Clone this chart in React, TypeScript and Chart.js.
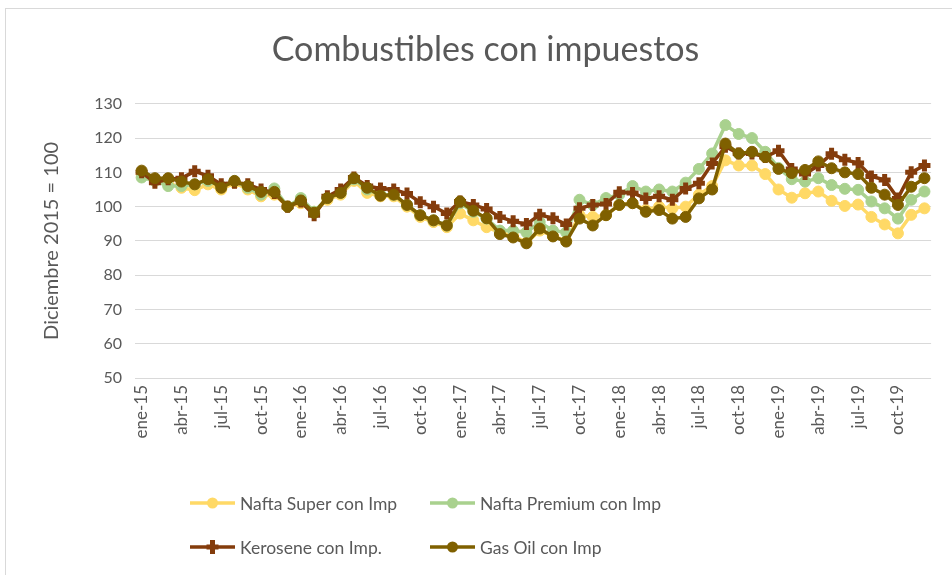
import React, { useEffect, useRef } from 'react';
import { Chart, registerables } from 'chart.js';

Chart.register(...registerables);

const months = [
  'ene-15', 'feb-15', 'mar-15', 'abr-15', 'may-15', 'jun-15', 'jul-15', 'ago-15', 'sep-15', 'oct-15', 'nov-15', 'dic-15',
  'ene-16', 'feb-16', 'mar-16', 'abr-16', 'may-16', 'jun-16', 'jul-16', 'ago-16', 'sep-16', 'oct-16', 'nov-16', 'dic-16',
  'ene-17', 'feb-17', 'mar-17', 'abr-17', 'may-17', 'jun-17', 'jul-17', 'ago-17', 'sep-17', 'oct-17', 'nov-17', 'dic-17',
  'ene-18', 'feb-18', 'mar-18', 'abr-18', 'may-18', 'jun-18', 'jul-18', 'ago-18', 'sep-18', 'oct-18', 'nov-18', 'dic-18',
  'ene-19', 'feb-19', 'mar-19', 'abr-19', 'may-19', 'jun-19', 'jul-19', 'ago-19', 'sep-19', 'oct-19', 'nov-19', 'dic-19',
];

const naftaSuper = [
  109.5, 107.5, 107, 105.5, 104.8, 106.5, 105, 107, 105, 103, 103.5, 100,
  101, 98.5, 102, 103.5, 107.5, 104, 103, 103, 100, 97, 95.5, 94,
  98, 96, 94, 92.5, 91.5, 89.5, 93, 91.5, 90, 97.5, 97, 97.5,
  100.5, 101, 99, 100, 99.5, 100, 103.5, 106, 113.5, 112, 112, 109.5,
  105, 102.6, 103.9, 104.4, 101.7, 100.2, 100.6, 97, 94.8, 92.2, 97.6, 99.5,
];

const naftaPremium = [
  108.5, 107.5, 106, 106, 106.5, 107.5, 106, 107.5, 105.5, 103.5, 105.3, 100,
  102.5, 98.5, 102.5, 104, 108, 105, 103.5, 103.5, 100.5, 97.5, 96, 94.5,
  101, 98.5, 96.5, 93, 93, 92.5, 95.5, 93, 92.5, 102, 100.5, 102.5,
  103.5, 106, 104.4, 105, 104.4, 107, 111, 115.5, 123.8, 121.2, 120, 116,
  111.3, 108, 107.3, 108.3, 106.3, 105.2, 104.9, 101.5, 99.5, 96.5, 102, 104.4,
];

const kerosene = [
  110, 107, 108, 108.3, 110.3, 109, 106.5, 107, 106.5, 105, 104, 100,
  101.5, 97.5, 103, 105, 108.5, 106, 105.3, 105, 103.8, 101.3, 100, 98,
  101.5, 100.5, 99.3, 97, 95.7, 94.9, 97.6, 96.6, 94.8, 99.5, 100.5, 100.8,
  104.2, 104, 102.4, 103, 102, 105.3, 106.8, 112.6, 117.5, 115.5, 115.5, 114.5,
  116.3, 111, 109.5, 112, 115.4, 113.7, 112.7, 108.8, 107.8, 102.4, 110, 112,
];

const gasOil = [
  110.5, 108.3, 108.3, 107.3, 106.5, 108, 105.5, 107.5, 106, 104.3, 104.3, 100,
  101.8, 98.2, 102.5, 104, 108.3, 105.5, 103.2, 103.5, 100.5, 97.5, 96, 94.5,
  101.5, 98.8, 96.6, 92, 91, 89.3, 93.6, 91.3, 89.8, 96.5, 94.5, 97.5,
  100.5, 101, 98.5, 99, 96.5, 97, 102.4, 105, 118.4, 115.5, 116, 114.5,
  111, 109.8, 110.7, 113.2, 111.2, 110, 109.5, 105.5, 103.5, 100.5, 105.8, 108.3,
];

const seriesNames = ['Nafta Super con Imp', 'Nafta Premium con Imp', 'Kerosene con Imp.', 'Gas Oil con Imp'];
const seriesColors = ['#FFD966', '#A9D18E', '#843C0C', '#7F6000'];

const FONT = 'Lato, "Open Sans", sans-serif';
const GRAY = '#595959';

const gridLegend = {
  id: 'gridLegend',
  afterDraw(chart: any) {
    const ctx = chart.ctx as CanvasRenderingContext2D;
    const area = chart.chartArea;
    const xBottom = chart.scales.x.bottom;
    const colX = [area.left + 55, area.left + 295];
    const rowY = [xBottom + 55, xBottom + 99];
    ctx.save();
    chart.data.datasets.forEach((ds: any, i: number) => {
      const x0 = colX[i % 2];
      const y = rowY[Math.floor(i / 2)];
      const lw = 45;
      ctx.strokeStyle = ds.borderColor;
      ctx.lineWidth = 3.5;
      ctx.beginPath();
      ctx.moveTo(x0, y);
      ctx.lineTo(x0 + lw, y);
      ctx.stroke();
      const cx = x0 + lw / 2;
      ctx.fillStyle = ds.borderColor;
      if (ds.pointStyle === 'cross') {
        ctx.lineWidth = 5;
        ctx.beginPath();
        ctx.moveTo(cx, y - 7);
        ctx.lineTo(cx, y + 7);
        ctx.moveTo(cx - 6, y);
        ctx.lineTo(cx + 6, y);
        ctx.stroke();
      } else {
        ctx.beginPath();
        ctx.arc(cx, y, 5.5, 0, Math.PI * 2);
        ctx.fill();
      }
      ctx.fillStyle = GRAY;
      ctx.font = `17.5px ${FONT}`;
      ctx.textAlign = 'left';
      ctx.textBaseline = 'middle';
      ctx.fillText(ds.label, x0 + lw + 5, y + 1);
    });
    ctx.restore();
  },
};

export default function App() {
  const canvasRef = useRef<HTMLCanvasElement | null>(null);

  useEffect(() => {
    if (!canvasRef.current) return;
    const values = [naftaSuper, naftaPremium, kerosene, gasOil];
    const chart = new Chart(canvasRef.current, {
      type: 'line',
      data: {
        labels: months,
        datasets: values.map((v, i) => ({
          label: seriesNames[i],
          data: v,
          borderColor: seriesColors[i],
          backgroundColor: seriesColors[i],
          pointBackgroundColor: seriesColors[i],
          pointBorderColor: seriesColors[i],
          borderWidth: 3.5,
          pointStyle: i === 2 ? 'cross' : 'circle',
          pointRadius: i === 2 ? 6 : 5.5,
          pointBorderWidth: i === 2 ? 5 : 1,
          tension: 0,
          order: 4 - i,
        })),
      },
      options: {
        animation: false,
        responsive: true,
        maintainAspectRatio: false,
        layout: { padding: { left: 20, right: 17, top: 0, bottom: 127 } },
        plugins: {
          legend: { display: false },
          tooltip: { enabled: false },
          title: {
            display: true,
            text: 'Combustibles con impuestos',
            color: GRAY,
            font: { family: FONT, size: 34, weight: 'normal' },
            padding: { top: 30, bottom: 33 },
          },
        },
        scales: {
          x: {
            offset: true,
            grid: { display: false, drawTicks: false },
            border: { display: false },
            ticks: {
              autoSkip: false,
              maxRotation: 90,
              minRotation: 90,
              padding: 7,
              color: GRAY,
              font: { family: FONT, size: 17 },
              callback: (_v: any, idx: number) => (idx % 3 === 0 ? months[idx] : ''),
            },
            afterFit: (scale: any) => {
              scale.height = 70;
            },
          },
          y: {
            min: 50,
            max: 130,
            grid: { color: '#D9D9D9', lineWidth: 1, drawTicks: false },
            border: { display: false },
            ticks: {
              stepSize: 10,
              padding: 13,
              color: GRAY,
              font: { family: FONT, size: 16 },
            },
            title: {
              display: true,
              text: 'Diciembre 2015 = 100',
              color: GRAY,
              font: { family: FONT, size: 20, weight: 'normal' },
              padding: { top: 4, bottom: 0 },
            },
            afterFit: (scale: any) => {
              scale.width = 99;
            },
          },
        },
      },
      plugins: [gridLegend],
    });
    return () => chart.destroy();
  }, []);

  return (
    <>
      <div
        style={{
          position: 'fixed',
          left: 5,
          top: 8,
          width: 960,
          height: 600,
          borderTop: '1px solid #D9D9D9',
          borderLeft: '1px solid #D9D9D9',
          boxSizing: 'border-box',
        }}
      />
      <div style={{ position: 'fixed', left: 16, top: 0, width: 936, height: 575 }}>
        <canvas ref={canvasRef} />
      </div>
    </>
  );
}
